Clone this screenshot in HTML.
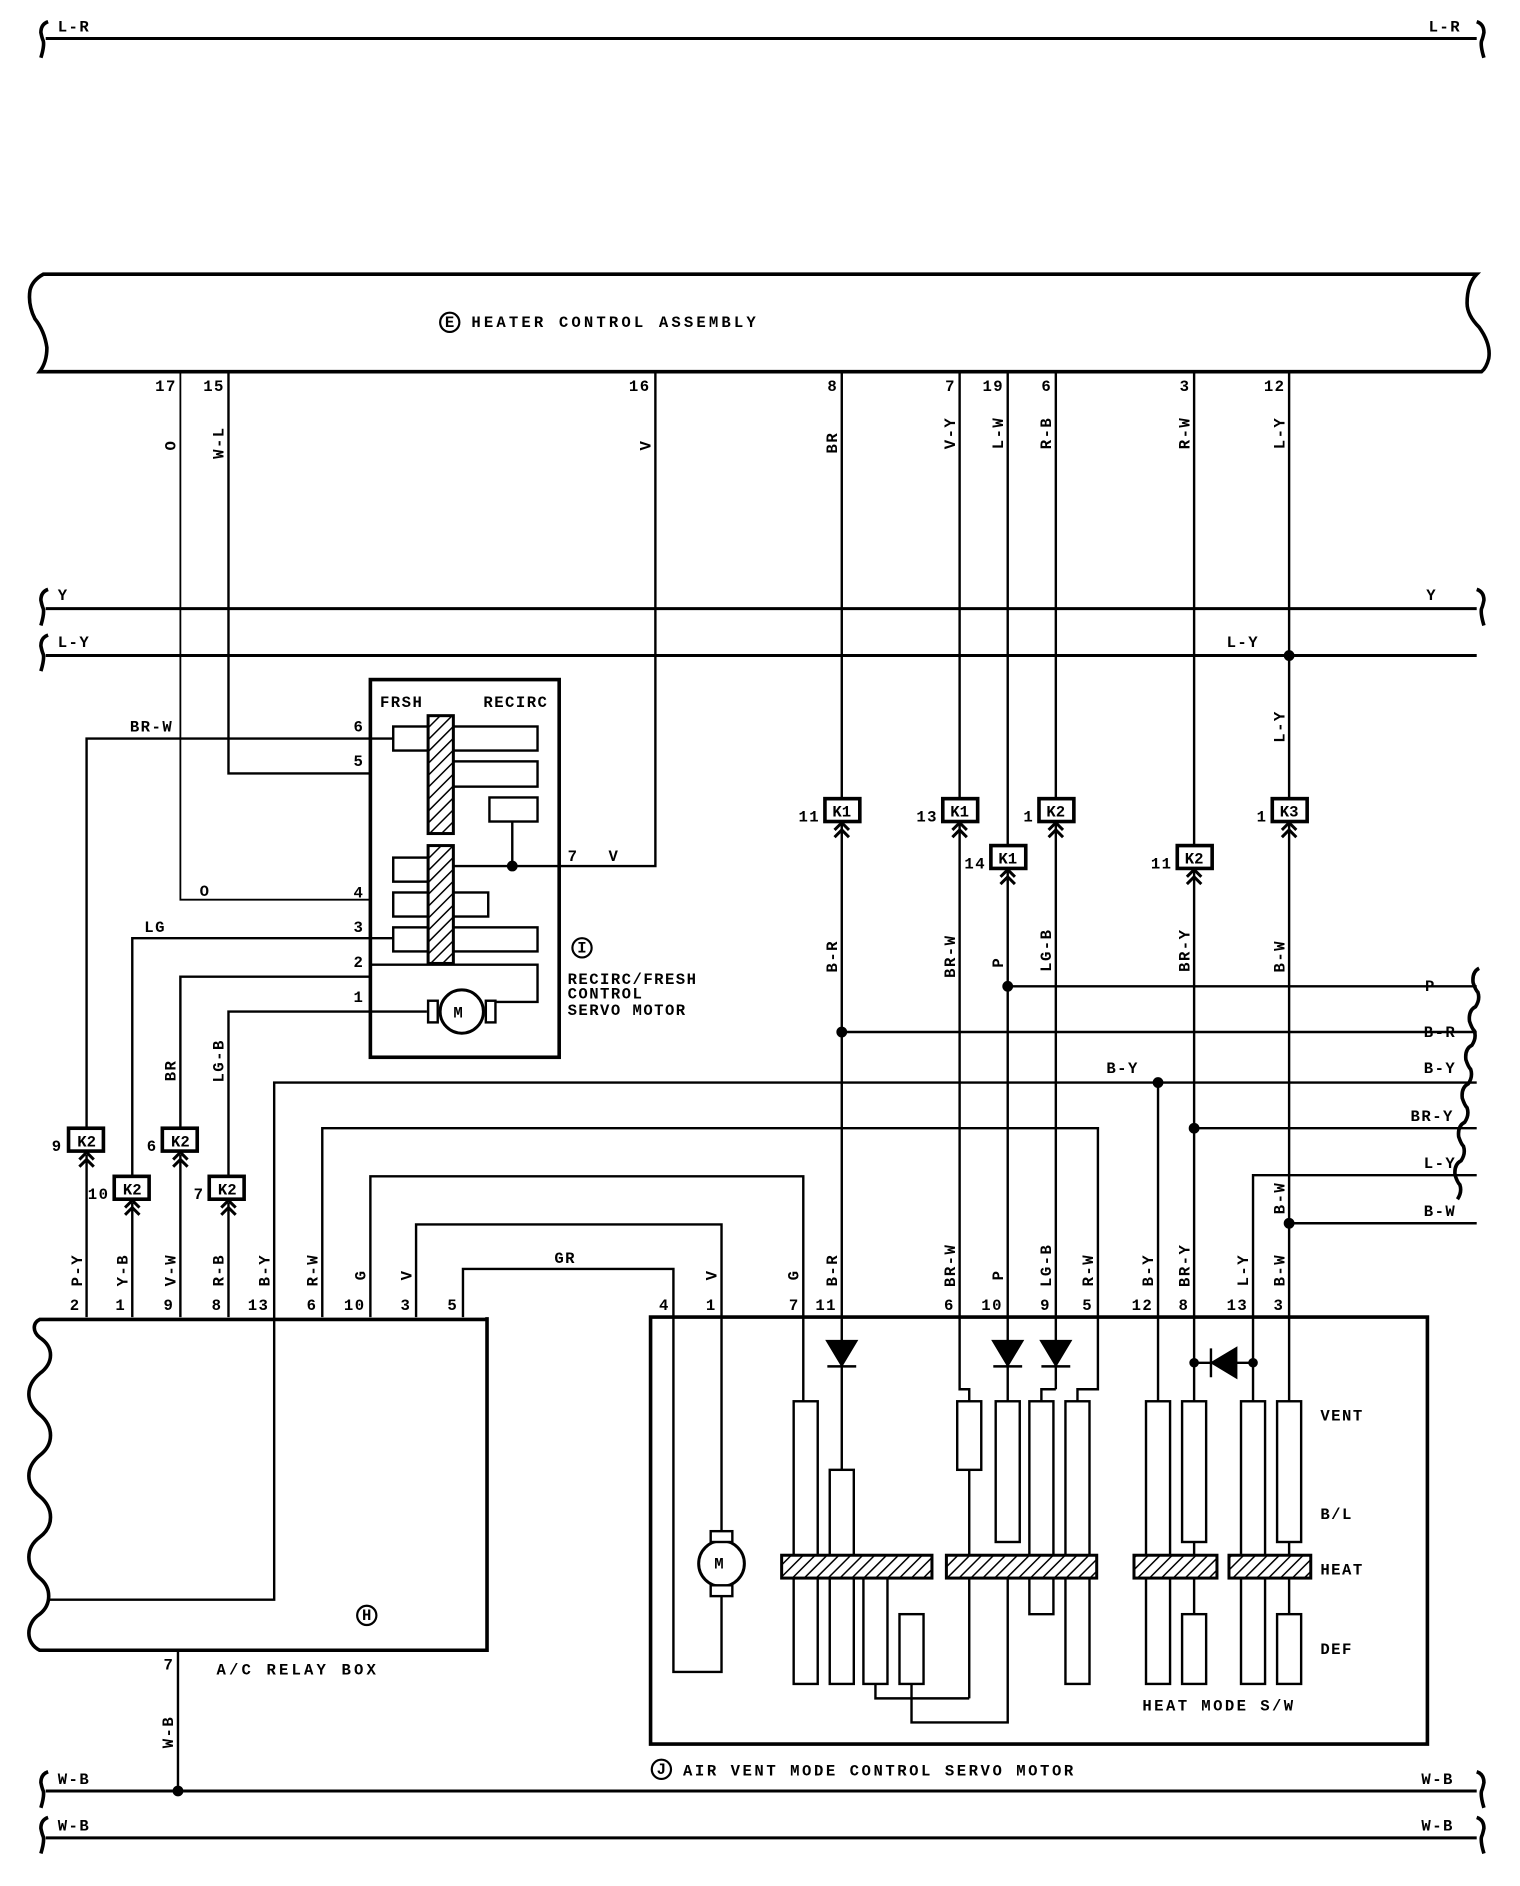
<!DOCTYPE html>
<html><head><meta charset="utf-8"><style>
html,body{margin:0;padding:0;background:#fff}
svg{display:block}
text{font-family:"Liberation Mono","DejaVu Sans Mono",monospace;font-weight:bold;fill:#000;font-size:13px;letter-spacing:1.2px}
</style></head><body>
<svg width="1520" height="1886" viewBox="0 0 1264 1568" preserveAspectRatio="none" xmlns="http://www.w3.org/2000/svg">
<defs>
<pattern id="h" width="7" height="7" patternUnits="userSpaceOnUse" patternTransform="rotate(45)"><rect width="7" height="7" fill="#fff"/><line x1="0" y1="0" x2="0" y2="7" stroke="#000" stroke-width="2.5"/></pattern>
<g id="arr"><path d="M-6 7 L0 1 L6 7 M-6 13 L0 7 L6 13" fill="none" stroke="#000" stroke-width="2.5"/></g>
</defs>
<g fill="none" stroke="#000" stroke-width="2">
<path d="M38 32H1228" stroke-width="2.5"/>
<path d="M40 18q-6 2 -6 9q1 5 2 7q1 4 -2 14" stroke-width="3"/>
<path d="M1228 18q6 2 6 9q-1 5 -2 7q-1 4 2 14" stroke-width="3"/>
<path d="M38 506H1228 M38 545H1228" stroke-width="2.5"/>
<path d="M40 490q-6 2 -6 9q1 5 2 7q1 4 -2 14 M40 528q-6 2 -6 9q1 5 2 7q1 4 -2 14" stroke-width="3"/>
<path d="M1228 490q6 2 6 9q-1 5 -2 7q-1 4 2 14" stroke-width="3"/>
<path d="M40 228H1228q-8 8 -8 24q0 10 10 20q10 14 8 26q-2 8 -6 11H33q6 -8 6 -20q-2 -14 -10 -24q-6 -12 -4 -24q2 -8 11 -13z" stroke-width="3"/>
<path d="M150 309V748H307" stroke-width="1.5"/>
<path d="M190 309V643H307"/>
<path d="M545 309V720H377"/>
<path d="M700 309V663 M798 309V663 M838 309V702 M878 309V663 M993 309V702 M1072 309V663"/>
<rect x="308" y="565" width="157" height="314" stroke-width="3"/>
<path d="M72 1095V960 M72 940V614H327"/>
<path d="M110 1095V1000 M110 978V780H327"/>
<path d="M150 1095V960 M150 940V812H308"/>
<path d="M190 1095V1000 M190 978V841H355"/>
<rect x="327" y="604" width="120" height="20"/>
<rect x="377" y="633" width="70" height="21"/>
<rect x="407" y="663" width="40" height="20"/>
<path d="M426 683V720"/>
<rect x="327" y="713" width="29" height="20"/>
<rect x="327" y="742" width="79" height="20"/>
<rect x="327" y="771" width="120" height="20"/>
<path d="M308 802H447V833H406"/>
<circle cx="384" cy="841" r="18" stroke-width="2.5"/>
<rect x="356" y="832" width="8" height="18" fill="#fff"/>
<rect x="404" y="832" width="8" height="18" fill="#fff"/>
<rect x="356" y="595" width="21" height="98" fill="url(#h)" stroke-width="2.5"/>
<rect x="356" y="703" width="21" height="98" fill="url(#h)" stroke-width="2.5"/>
<!-- relay box -->
<path d="M405 1095V1372H33c-12 -6 -12 -22 0 -30c10 -8 10 -22 0 -30c-12 -10 -12 -25 0 -34c12 -9 12 -24 0 -34c-12 -10 -12 -24 0 -34c12 -9 12 -24 0 -34c-12 -10 -12 -24 0 -34c12 -9 12 -22 0 -30c-6 -5 -6 -12 0 -15H405" stroke-width="3"/>
<path d="M228 1095V900H1228 M228 1095V1330H40"/>
<path d="M268 1095V938H913V1155H896V1165"/>
<path d="M308 1095V978H668V1165"/>
<path d="M346 1095V1018H600V1280"/>
<path d="M385 1095V1055H560V1390H600V1320"/>
<path d="M148 1372V1489"/>
<path d="M838 820H1228 M700 858H1228 M993 938H1228 M1042 1165V977H1228 M1072 1017H1228"/>
<path d="M1230 805q-6 3 -5 12q2 6 4 8q2 6 -2 12q-6 3 -5 12q2 6 4 8q2 6 -2 12q-6 3 -5 12q2 6 4 8q2 6 -2 12q-6 3 -5 12q2 6 4 8q2 6 -2 12q-6 3 -5 12q2 6 4 8q2 6 -2 12q-6 3 -5 12q2 6 4 8q2 6 -2 12" stroke-width="3"/>
<path d="M700 678V1222 M798 678V1095 M838 717V1165 M878 678V1155 M993 717V1165 M1072 678V1165 M963 900V1165"/>
<rect x="541" y="1095" width="646" height="355" stroke-width="3"/>
<circle cx="600" cy="1300" r="19" stroke-width="2.5"/>
<rect x="591" y="1273" width="18" height="9" fill="#fff"/>
<rect x="591" y="1318" width="18" height="9" fill="#fff"/>
<rect x="660" y="1165" width="20" height="235"/>
<rect x="690" y="1222" width="20" height="178"/>
<rect x="718" y="1312" width="20" height="88"/>
<rect x="748" y="1342" width="20" height="58"/>
<path d="M728 1400V1412H806 M758 1400V1432H838V1312"/>
<path d="M798 1095V1155H806V1165"/>
<rect x="796" y="1165" width="20" height="57"/>
<path d="M806 1222V1412"/>
<rect x="828" y="1165" width="20" height="117"/>
<path d="M878 1155H866V1165"/>
<rect x="856" y="1165" width="20" height="128"/>
<path d="M856 1312V1342H876V1312"/>
<rect x="886" y="1165" width="20" height="235"/>
<rect x="953" y="1165" width="20" height="235"/>
<rect x="983" y="1165" width="20" height="117"/>
<rect x="983" y="1342" width="20" height="58"/>
<path d="M993 1282V1342 M1072 1282V1342"/>
<rect x="1032" y="1165" width="20" height="235"/>
<rect x="1062" y="1165" width="20" height="117"/>
<rect x="1062" y="1342" width="20" height="58"/>
<path d="M993 1133H1042"/>
<rect x="650" y="1293" width="125" height="19" fill="url(#h)" stroke-width="2.5"/>
<rect x="787" y="1293" width="125" height="19" fill="url(#h)" stroke-width="2.5"/>
<rect x="943" y="1293" width="69" height="19" fill="url(#h)" stroke-width="2.5"/>
<rect x="1022" y="1293" width="68" height="19" fill="url(#h)" stroke-width="2.5"/>
<path d="M38 1489H1228 M38 1528H1228" stroke-width="2.5"/>
<path d="M40 1473q-6 2 -6 9q1 5 2 7q1 4 -2 14 M40 1511q-6 2 -6 9q1 5 2 7q1 4 -2 14" stroke-width="3"/>
<path d="M1228 1473q6 2 6 9q-1 5 -2 7q-1 4 2 14 M1228 1511q6 2 6 9q-1 5 -2 7q-1 4 2 14" stroke-width="3"/>
<circle cx="374" cy="268" r="8" stroke-width="1.8"/>
<circle cx="484" cy="788" r="8" stroke-width="1.8"/>
<circle cx="305" cy="1343" r="8" stroke-width="1.8"/>
<circle cx="550" cy="1471" r="8" stroke-width="1.8"/>
</g>
<g fill="#000" stroke="#000" stroke-width="2">
<path d="M688 1115H712L700 1135Z M688 1136H712"/>
<path d="M826 1115H850L838 1135Z M826 1136H850"/>
<path d="M866 1115H890L878 1135Z M866 1136H890"/>
<path d="M1028 1121V1145L1008 1133Z M1007 1121V1145"/>
<circle cx="993" cy="1133" r="3"/><circle cx="1042" cy="1133" r="3"/>
<circle cx="426" cy="720" r="3.5"/>
<circle cx="1072" cy="545" r="3.5"/><circle cx="838" cy="820" r="3.5"/><circle cx="700" cy="858" r="3.5"/>
<circle cx="963" cy="900" r="3.5"/><circle cx="993" cy="938" r="3.5"/><circle cx="1072" cy="1017" r="3.5"/>
<circle cx="148" cy="1489" r="3.5"/>
</g>
<g stroke="#000" stroke-width="3" fill="#fff">
<rect x="57" y="938" width="29" height="19"/><rect x="95" y="978" width="29" height="19"/>
<rect x="135" y="938" width="29" height="19"/><rect x="174" y="978" width="29" height="19"/>
<rect x="686" y="664" width="29" height="19"/><rect x="784" y="664" width="29" height="19"/>
<rect x="824" y="703" width="29" height="19"/><rect x="864" y="664" width="29" height="19"/>
<rect x="979" y="703" width="29" height="19"/><rect x="1058" y="664" width="29" height="19"/>
</g>
<g>
<use href="#arr" x="72" y="957"/><use href="#arr" x="110" y="997"/><use href="#arr" x="150" y="957"/><use href="#arr" x="190" y="997"/>
<use href="#arr" x="700" y="683"/><use href="#arr" x="798" y="683"/><use href="#arr" x="838" y="722"/><use href="#arr" x="878" y="683"/><use href="#arr" x="993" y="722"/><use href="#arr" x="1072" y="683"/>
</g>
<g text-anchor="middle" font-size="12">
<text x="72" y="953" style="letter-spacing:0">K2</text><text x="110" y="993" style="letter-spacing:0">K2</text><text x="150" y="953" style="letter-spacing:0">K2</text><text x="189" y="993" style="letter-spacing:0">K2</text>
<text x="700" y="679" style="letter-spacing:0">K1</text><text x="798" y="679" style="letter-spacing:0">K1</text><text x="838" y="718" style="letter-spacing:0">K1</text><text x="878" y="679" style="letter-spacing:0">K2</text><text x="993" y="718" style="letter-spacing:0">K2</text><text x="1072" y="679" style="letter-spacing:0">K3</text>
</g>
<g text-anchor="end" style="letter-spacing:0">
<text x="52" y="957">9</text><text x="91" y="997">10</text><text x="131" y="957">6</text><text x="170" y="997">7</text>
<text x="682" y="683">11</text><text x="780" y="683">13</text><text x="820" y="722">14</text><text x="860" y="683">1</text><text x="975" y="722">11</text><text x="1054" y="683">1</text>
<text x="147" y="325">17</text><text x="187" y="325">15</text><text x="541" y="325">16</text><text x="697" y="325">8</text><text x="795" y="325">7</text><text x="835" y="325">19</text><text x="875" y="325">6</text><text x="990" y="325">3</text><text x="1069" y="325">12</text>
<text x="67" y="1089">2</text><text x="105" y="1089">1</text><text x="145" y="1089">9</text><text x="185" y="1089">8</text><text x="224" y="1089">13</text><text x="264" y="1089">6</text><text x="304" y="1089">10</text><text x="342" y="1089">3</text><text x="381" y="1089">5</text>
<text x="557" y="1089">4</text><text x="596" y="1089">1</text><text x="665" y="1089">7</text><text x="696" y="1089">11</text><text x="794" y="1089">6</text><text x="834" y="1089">10</text><text x="874" y="1089">9</text><text x="909" y="1089">5</text><text x="959" y="1089">12</text><text x="989" y="1089">8</text><text x="1038" y="1089">13</text><text x="1068" y="1089">3</text>
<text x="145" y="1388">7</text>
<text x="303" y="608">6</text><text x="303" y="637">5</text><text x="303" y="746">4</text><text x="303" y="775">3</text><text x="303" y="804">2</text><text x="303" y="833">1</text>
</g>
<g>
<text x="48" y="26">L-R</text><text x="1188" y="26">L-R</text>
<text x="48" y="499">Y</text><text x="1186" y="499">Y</text>
<text x="48" y="538">L-Y</text><text x="1020" y="538">L-Y</text>
<text x="392" y="272" style="letter-spacing:2.6px">HEATER CONTROL ASSEMBLY</text><text x="370" y="272" font-size="11" style="letter-spacing:0">E</text>
<text x="316" y="588">FRSH</text><text x="402" y="588">RECIRC</text>
<text x="472" y="716">7</text><text x="506" y="716">V</text>
<text x="108" y="608">BR-W</text><text x="166" y="745">O</text><text x="120" y="775">LG</text>
<text x="480" y="792" font-size="11" style="letter-spacing:0">I</text>
<text x="472" y="818">RECIRC/FRESH</text><text x="472" y="830">CONTROL</text><text x="472" y="844">SERVO MOTOR</text>
<text x="377" y="846" font-size="11">M</text><text x="594" y="1304" font-size="11">M</text>
<text x="1185" y="824">P</text><text x="1184" y="862">B-R</text><text x="1184" y="892">B-Y</text><text x="1173" y="932">BR-Y</text><text x="1184" y="971">L-Y</text><text x="1184" y="1011">B-W</text>
<text x="920" y="892">B-Y</text><text x="461" y="1050">GR</text>
<text x="1098" y="1181">VENT</text><text x="1098" y="1263">B/L</text><text x="1098" y="1309">HEAT</text><text x="1098" y="1375">DEF</text>
<text x="950" y="1422" style="letter-spacing:2px">HEAT MODE S/W</text>
<text x="180" y="1392" style="letter-spacing:2.6px">A/C RELAY BOX</text><text x="301" y="1347" font-size="11" style="letter-spacing:0">H</text>
<text x="568" y="1476" style="letter-spacing:2.1px">AIR VENT MODE CONTROL SERVO MOTOR</text><text x="546" y="1475" font-size="11" style="letter-spacing:0">J</text>
<text x="48" y="1483">W-B</text><text x="1182" y="1483">W-B</text><text x="48" y="1522">W-B</text><text x="1182" y="1522">W-B</text>
</g>
<g text-anchor="middle" style="letter-spacing:0">
<text transform="translate(146,370) rotate(-90)">O</text>
<text transform="translate(186,368) rotate(-90)">W-L</text>
<text transform="translate(541,370) rotate(-90)">V</text>
<text transform="translate(696,368) rotate(-90)">BR</text>
<text transform="translate(794,360) rotate(-90)">V-Y</text>
<text transform="translate(834,360) rotate(-90)">L-W</text>
<text transform="translate(874,360) rotate(-90)">R-B</text>
<text transform="translate(989,360) rotate(-90)">R-W</text>
<text transform="translate(1068,360) rotate(-90)">L-Y</text>
<text transform="translate(1068,604) rotate(-90)">L-Y</text>
<text transform="translate(146,890) rotate(-90)">BR</text>
<text transform="translate(186,882) rotate(-90)">LG-B</text>
<text transform="translate(696,795) rotate(-90)">B-R</text>
<text transform="translate(794,795) rotate(-90)">BR-W</text>
<text transform="translate(834,800) rotate(-90)">P</text>
<text transform="translate(874,790) rotate(-90)">LG-B</text>
<text transform="translate(989,790) rotate(-90)">BR-Y</text>
<text transform="translate(1068,795) rotate(-90)">B-W</text>
<text transform="translate(1068,996) rotate(-90)">B-W</text>
<text transform="translate(68,1056) rotate(-90)">P-Y</text>
<text transform="translate(106,1056) rotate(-90)">Y-B</text>
<text transform="translate(146,1056) rotate(-90)">V-W</text>
<text transform="translate(186,1056) rotate(-90)">R-B</text>
<text transform="translate(224,1056) rotate(-90)">B-Y</text>
<text transform="translate(264,1056) rotate(-90)">R-W</text>
<text transform="translate(304,1060) rotate(-90)">G</text>
<text transform="translate(342,1060) rotate(-90)">V</text>
<text transform="translate(596,1060) rotate(-90)">V</text>
<text transform="translate(664,1060) rotate(-90)">G</text>
<text transform="translate(696,1056) rotate(-90)">B-R</text>
<text transform="translate(794,1052) rotate(-90)">BR-W</text>
<text transform="translate(834,1060) rotate(-90)">P</text>
<text transform="translate(874,1052) rotate(-90)">LG-B</text>
<text transform="translate(909,1056) rotate(-90)">R-W</text>
<text transform="translate(959,1056) rotate(-90)">B-Y</text>
<text transform="translate(989,1052) rotate(-90)">BR-Y</text>
<text transform="translate(1038,1056) rotate(-90)">L-Y</text>
<text transform="translate(1068,1056) rotate(-90)">B-W</text>
<text transform="translate(144,1440) rotate(-90)">W-B</text>
</g>
</svg>
</body></html>
